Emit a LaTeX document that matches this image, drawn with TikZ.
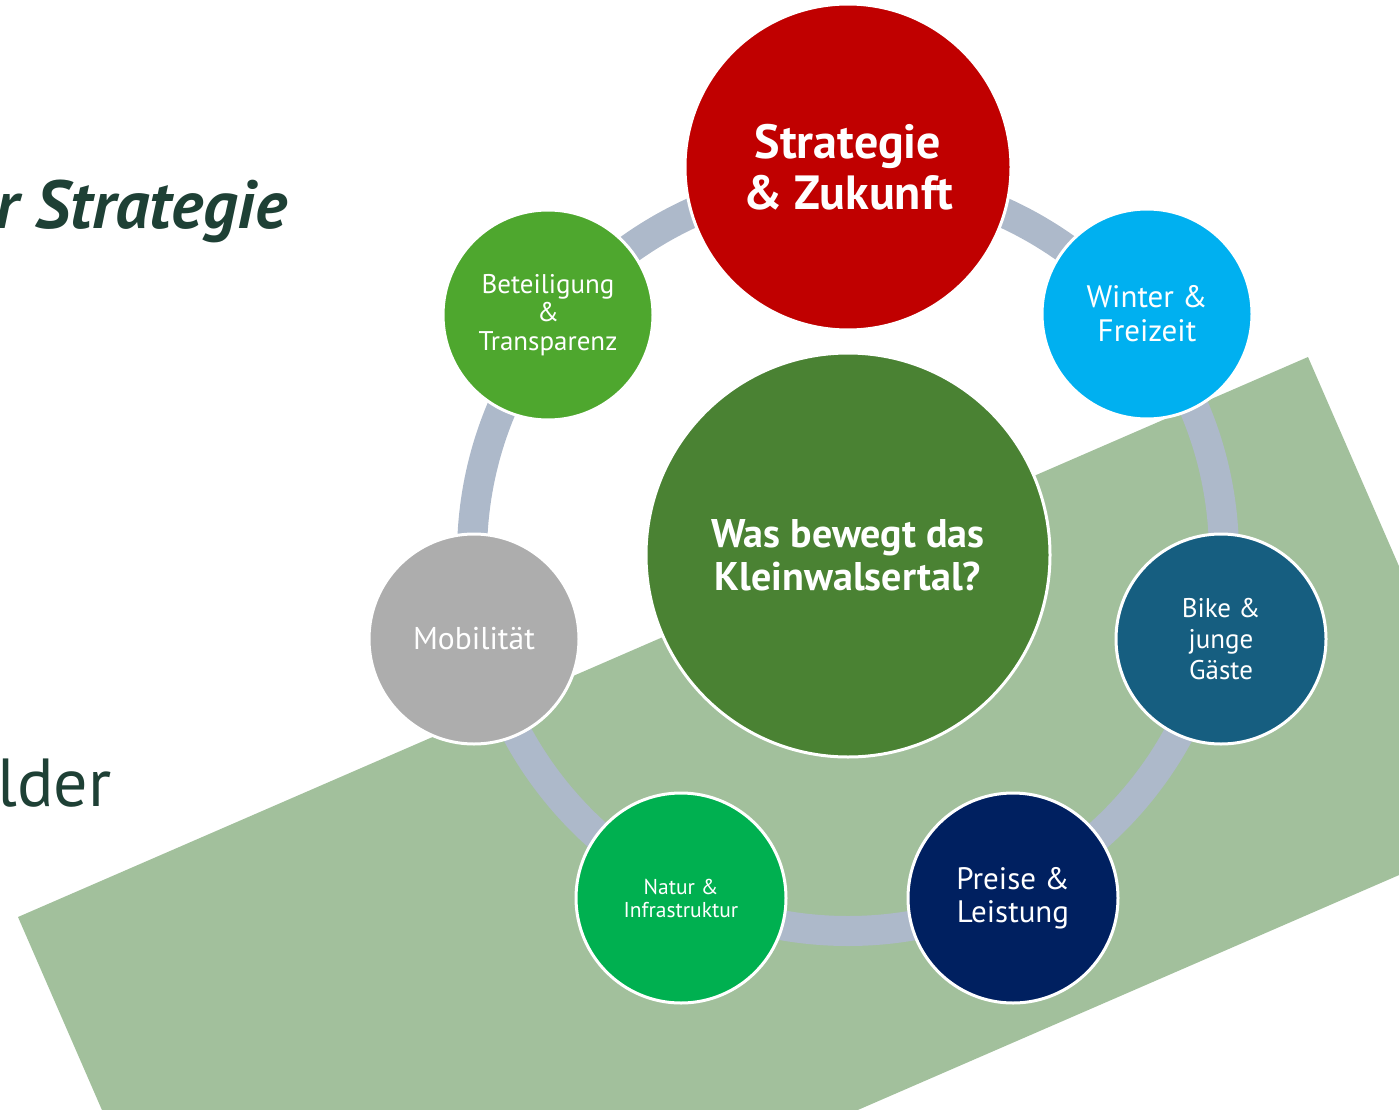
\documentclass[tikz,border=0pt]{standalone}
\usepackage{fontspec}
\setmainfont{PT Sans}
\definecolor{bandgreen}{HTML}{A2C09C}
\definecolor{ringgrey}{HTML}{ADB9CA}
\definecolor{darktext}{HTML}{1E4035}
\definecolor{cred}{HTML}{C00000}
\definecolor{chub}{HTML}{4A8233}
\definecolor{cwinter}{HTML}{00B0F0}
\definecolor{cbike}{HTML}{165E80}
\definecolor{cpreise}{HTML}{002060}
\definecolor{cnatur}{HTML}{00B050}
\definecolor{cmob}{HTML}{ADADAD}
\definecolor{cbet}{HTML}{4EA72E}
\tikzset{
  bubble/.style={circle, draw=white, line width=3pt, inner sep=0pt, text=white, align=center, minimum size=210pt},
  ring/.style={draw=ringgrey, line width=30pt},
}
\begin{document}
\begin{tikzpicture}[x=1pt,y=-1pt]
\useasboundingbox (0,0) rectangle (1399,1110);
\clip (0,0) rectangle (1399,1110);
\fill[bandgreen] (18,917) -- (1308,357) -- (1512,826) -- (222,1386) -- cycle;
\node[anchor=base east, text=darktext, font=\fontsize{68}{80}\selectfont\bfseries\itshape, inner sep=0pt] (title) at (287,228) {r Strategie};
\node[anchor=base west, text=darktext, font=\fontsize{68}{80}\selectfont, inner sep=0pt] (sub) at (-3,806) {lder};
\coordinate (c) at (848,555);
\draw[ring] (c) circle[radius=376];
\node[bubble, fill=cred, minimum size=326pt, font=\fontsize{48}{51}\selectfont\bfseries] (strat) at (848,167) {Strategie\\\& Zukunft};
\node[bubble, fill=cwinter, font=\fontsize{31}{34}\selectfont] (winter) at (1147,314) {Winter \&\\Freizeit};
\node[bubble, fill=cbike, font=\fontsize{27}{31}\selectfont] (bike) at (1221,639) {Bike \&\\junge\\Gäste};
\node[bubble, fill=cpreise, font=\fontsize{31}{33}\selectfont] (preise) at (1013,898) {Preise \&\\Leistung};
\node[bubble, fill=cnatur, font=\fontsize{21.5}{23}\selectfont] (natur) at (681,898) {Natur \&\\Infrastruktur};
\node[bubble, fill=cmob, font=\fontsize{31.5}{34}\selectfont] (mob) at (474,639) {Mobilität};
\node[bubble, fill=cbet, font=\fontsize{27}{28.5}\selectfont] (bet) at (548,315) {Beteiligung\\\&\\Transparenz};
\node[bubble, fill=chub, minimum size=404pt, font=\fontsize{40}{43}\selectfont\bfseries] (hub) at (c) {Was bewegt das\\Kleinwalsertal?};
\end{tikzpicture}
\end{document}
